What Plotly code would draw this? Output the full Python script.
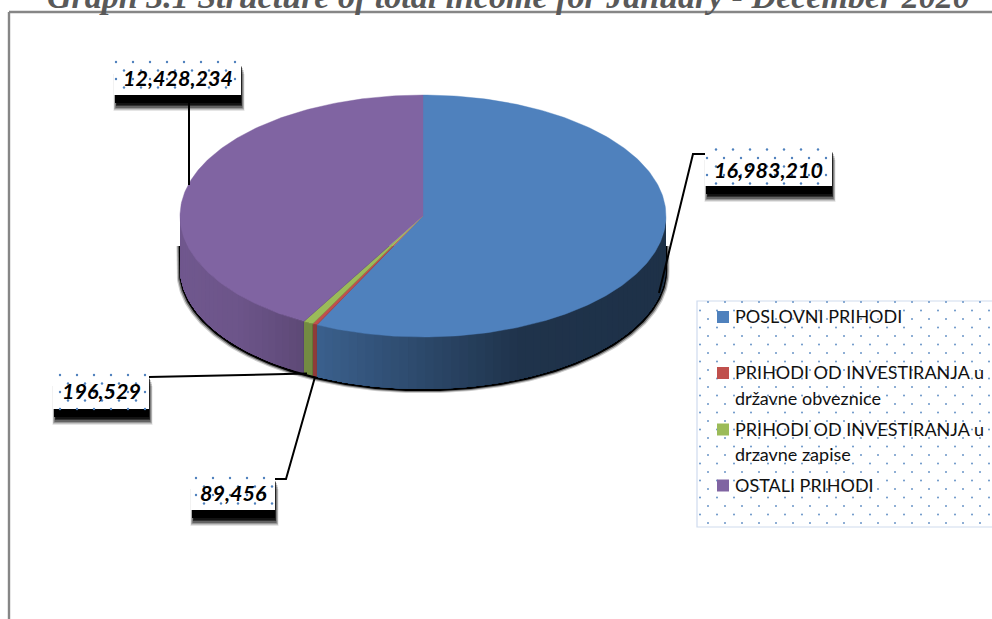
import numpy as np
import plotly.graph_objects as go

# ---- data
categories = ["POSLOVNI PRIHODI",
              "PRIHODI OD INVESTIRANJA u državne obveznice",
              "PRIHODI OD INVESTIRANJA u drzavne zapise",
              "OSTALI PRIHODI"]
values = [16983210, 89456, 196529, 12428234]
value_labels = ["16,983,210", "89,456", "196,529", "12,428,234"]
colors = ["#4f81bd", "#c0504d", "#9bbb59", "#8064a2"]
title = "Graph 3.1 Structure of total income for January - December 2020"

# ---- pie geometry (page pixels are used as the axis units)
CX, CY, RX, RY, DEPTH = 423, 216, 243, 121, 52
DOT = "#4f81bd"

def ex(t, r=RX):
    return CX + r * np.sin(t)

def ey(t, cy=CY, r=RY):
    return cy - r * np.cos(t)

def rgb(h):
    return [int(h[i:i + 2], 16) for i in (1, 3, 5)]

def shade(h, x):
    f = np.interp(x, [180, 240, 300, 316, 420, 520, 665],
                  [.88, .85, .74, .75, .57, .40, .38])
    r, g, b = [int(c * f) for c in rgb(h)]
    return f"rgb({r},{g},{b})"

fig = go.Figure()
shapes = []

# ---- frame
FR = "#868686"
shapes.append(dict(type="line", x0=9, x1=992, y0=12, y1=12, line=dict(color=FR, width=2.4), layer="below"))
shapes.append(dict(type="line", x0=9, x1=9, y0=12, y1=619, line=dict(color=FR, width=2.4), layer="below"))

# ---- dotted fills
def dots(x0, x1, y0, y1, xa, xb, ystart, size=2.4, opacity=1.0):
    xs, ys = [], []
    y, i = ystart, 0
    while y <= y1:
        s = xa if i % 2 == 0 else xb
        for x in np.arange(s, x1, 17.0):
            if x >= x0:
                xs.append(x)
                ys.append(y)
        y += 8.5
        i += 1
    fig.add_trace(go.Scatter(x=xs, y=ys, mode="markers", hoverinfo="skip", showlegend=False,
                             marker=dict(color=DOT, size=size, opacity=opacity, symbol="circle", line=dict(width=0))))

# ---- label boxes with drop shadows
boxes = [  # x0, x1, y0, y1, xa, xb, ystart, text-centre y
    (705, 832, 148, 186, 716, 707, 149.5, 170),
    (191, 275, 477, 510, 196, 204, 478, 492.5),
    (53, 149, 374, 409, 60, 68, 375, 391),
    (114, 241, 62, 95, 116, 124, 62, 78),
]
for x0, x1, y0, y1, *_ in boxes:
    # soft halo that fades down and out, then the solid band under the box
    for grow, top, drop, op in [(3.5, 12, 16, .10), (3, 10, 15, .15), (2.5, 8, 14, .22),
                                (1.5, 6, 13, .35), (1, 5, 11, .5), (0.5, 4, 10, .6)]:
        shapes.append(dict(type="rect", x0=x0 - grow + 3, x1=x1 + grow, y0=y0 + top, y1=y1 + drop,
                           layer="below", fillcolor="black", opacity=op, line=dict(width=0)))
    shapes.append(dict(type="rect", x0=x0 + 1, x1=x1, y0=y1 - 3, y1=y1 + 8, layer="below",
                       fillcolor="black", line=dict(width=0)))
    shapes.append(dict(type="rect", x0=x0, x1=x1, y0=y0, y1=y1, layer="below",
                       fillcolor="white", line=dict(width=0)))
for x0, x1, y0, y1, xa, xb, ys, _ in boxes:
    dots(x0, x1, y0, y1, xa, xb, ys)

# ---- legend panel
shapes.append(dict(type="rect", x0=697, x1=1000, y0=301, y1=527, layer="below",
                   fillcolor="white", line=dict(color="#cfdbee", width=1.2)))
dots(698, 992, 302, 526, 708, 700, 302, size=2.0, opacity=.85)

# ---- pie shadow
t = np.linspace(np.pi / 2, 3 * np.pi / 2, 200)
for grow, drop, op in [(3.5, 4, .2), (2.5, 3, .4), (1.2, 2, 1)]:
    px = np.r_[CX - RX - grow, ex(t[::-1], RX + grow), CX + RX + grow]
    py = np.r_[CY + 30, ey(t[::-1], CY + DEPTH + drop, RY + .3), CY + 30]
    fig.add_trace(go.Scatter(x=px, y=py, mode="lines", fill="toself", fillcolor=f"rgba(0,0,0,{op})",
                             line=dict(width=0), hoverinfo="skip", showlegend=False))

# ---- slices, clockwise from twelve o'clock
fracs = np.array(values, dtype=float) / sum(values)
edges = np.r_[0, np.cumsum(fracs)] * 2 * np.pi
for i, col in enumerate(colors):
    a, b = edges[i], edges[i + 1]
    lo, hi = max(a, np.pi / 2), min(b, 3 * np.pi / 2)
    if hi <= lo:
        continue
    n = max(1, int((hi - lo) / np.radians(2)))
    stops = np.linspace(lo, hi, n + 1)
    for s0, s1 in zip(stops[:-1], stops[1:]):
        # each strip runs on to the end of the slice, so the next one paints over it without a seam
        tt = np.linspace(s0, hi, 40)
        c = shade(col, ex((s0 + s1) / 2))
        fig.add_trace(go.Scatter(
            x=np.r_[ex(tt), ex(tt[::-1])],
            y=np.r_[ey(tt), ey(tt[::-1], CY + DEPTH)],
            mode="lines", fill="toself", fillcolor=c, line=dict(width=0),
            hoverinfo="skip", showlegend=False))
for i, col in enumerate(colors):
    tt = np.linspace(edges[i], edges[i + 1], max(3, int(fracs[i] * 400)))
    fig.add_trace(go.Scatter(
        x=np.r_[CX, ex(tt), CX], y=np.r_[CY, ey(tt), CY], mode="lines", fill="toself",
        fillcolor=col, line=dict(color=col, width=0.4), name=categories[i],
        text=value_labels[i], hoverinfo="name+text", showlegend=False))

# ---- leader lines
leaders = [
    ([705, 693, 659], [154, 154, 293]),
    ([275, 286, 315], [479, 479, 377]),
    ([149, 307], [377, 373.5]),
    ([189, 189], [95, 185]),
]
for lx, ly in leaders:
    fig.add_trace(go.Scatter(x=lx, y=ly, mode="lines", line=dict(color="black", width=2),
                             hoverinfo="skip", showlegend=False))

# ---- value labels
ann = []
for (x0, x1, y0, y1, *_, yc), txt in zip(boxes, value_labels):
    ann.append(dict(x=(x0 + x1) / 2, y=yc, text=f"<b><i>{txt}</i></b>", showarrow=False,
                    xanchor="center", yanchor="middle",
                    font=dict(family="Lato", size=21.5, color="black")))

# ---- legend swatches and text
legend_rows = [
    ("POSLOVNI PRIHODI", 316, 0),
    ("PRIHODI OD INVESTIRANJA u", 372, 1),
    ("državne obveznice", 397.5, None),
    ("PRIHODI OD INVESTIRANJA u", 428.5, 2),
    ("drzavne zapise", 454, None),
    ("OSTALI PRIHODI", 484.5, 3),
]
for txt, y, idx in legend_rows:
    ann.append(dict(x=733, y=y, text=txt, showarrow=False, xanchor="left", yanchor="middle",
                    font=dict(family="Lato", size=18, color="#111111")))
    if idx is not None:
        fig.add_trace(go.Scatter(x=[723], y=[y + 1], mode="markers", hoverinfo="skip", showlegend=False,
                                 marker=dict(symbol="square", size=12, color=colors[idx], line=dict(width=0))))

# ---- title, cropped by the top of the page
ann.append(dict(x=508, y=1, yshift=5, text=f"<b><i>{title}</i></b>", showarrow=False, xanchor="center", yanchor="middle",
                font=dict(family="Liberation Serif", size=34, color="#595959")))

fig.update_layout(
    width=992, height=619, margin=dict(l=0, r=0, t=0, b=0),
    paper_bgcolor="white", plot_bgcolor="white", showlegend=False,
    xaxis=dict(range=[0, 992], visible=False, fixedrange=True),
    yaxis=dict(range=[619, 0], visible=False, fixedrange=True),
    shapes=shapes, annotations=ann,
)
fig.write_html("out.html", config=dict(displayModeBar=False),
               post_script="document.body.style.margin='0';document.body.style.overflow='hidden';")
